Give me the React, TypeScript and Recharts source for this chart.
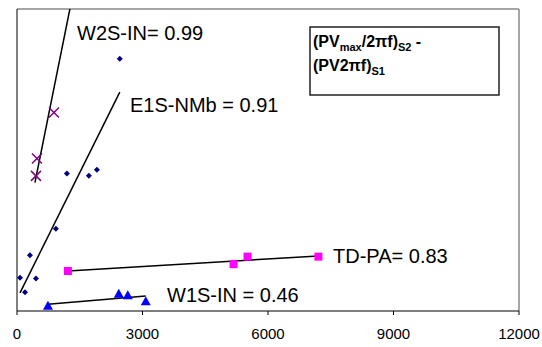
import {
  ScatterChart,
  Scatter,
  XAxis,
  YAxis,
  ReferenceLine,
  Customized,
} from "recharts";

const xTicks = [0, 3000, 6000, 9000, 12000];
const yTicks = [0, 1, 2, 3, 4];

// E1S-NMb
const e1sX = [2457, 1193, 1718, 1909, 930, 310, 72, 453, 191];
const e1sY = [3.34, 1.82, 1.79, 1.87, 1.09, 0.74, 0.44, 0.43, 0.25];
const e1sTrendX = [72, 2457];
const e1sTrendY = [0.24, 2.9];

// W2S-IN
const w2sX = [883, 477, 453];
const w2sY = [2.63, 2.02, 1.79];
const w2sTrendX = [429, 1264];
const w2sTrendY = [1.7, 4.0];

// TD-PA
const tdpaX = [1217, 5177, 5511, 7205];
const tdpaY = [0.53, 0.62, 0.72, 0.72];
const tdpaTrendX = [1217, 7205];
const tdpaTrendY = [0.53, 0.73];

// W1S-IN
const w1sX = [740, 2433, 2648, 3078];
const w1sY = [0.07, 0.23, 0.21, 0.13];
const w1sTrendX = [740, 3078];
const w1sTrendY = [0.09, 0.2];

const zip = (xs: number[], ys: number[]) =>
  xs.map((x, i) => ({ x, y: ys[i] }));

const FONT = "Arial, 'Liberation Sans', sans-serif";

const Diamond = (p: any) => (
  <polygon
    points={`${p.cx},${p.cy - 3} ${p.cx + 3},${p.cy} ${p.cx},${p.cy + 3} ${p.cx - 3},${p.cy}`}
    fill="#000080"
  />
);

const Cross = (p: any) => (
  <g stroke="#800080" strokeWidth={1.5}>
    <line x1={p.cx - 5} y1={p.cy - 5} x2={p.cx + 5} y2={p.cy + 5} />
    <line x1={p.cx - 5} y1={p.cy + 5} x2={p.cx + 5} y2={p.cy - 5} />
  </g>
);

const Square = (p: any) => (
  <rect x={p.cx - 4} y={p.cy - 4} width={8} height={8} fill="#FF00FF" />
);

const Triangle = (p: any) => (
  <polygon
    points={`${p.cx},${p.cy - 5} ${p.cx + 5},${p.cy + 4} ${p.cx - 5},${p.cy + 4}`}
    fill="#0000FF"
  />
);

const NoDot = () => <g />;

const Labels = () => (
  <g fontFamily={FONT} fill="#000">
    <text x={77} y={40} fontSize={20}>W2S-IN= 0.99</text>
    <text x={130} y={112} fontSize={20}>E1S-NMb = 0.91</text>
    <text x={333} y={263} fontSize={20}>TD-PA= 0.83</text>
    <text x={167} y={302} fontSize={20}>W1S-IN = 0.46</text>
    <rect x={310} y={27} width={189} height={68} fill="#fff" stroke="#222" strokeWidth={1.5} />
    <text x={313} y={47} fontSize={16} fontWeight="bold">
      (PV<tspan fontSize={11} dy={4}>max</tspan>
      <tspan dy={-4}>/2πf)</tspan>
      <tspan fontSize={11} dy={4}>S2</tspan>
      <tspan dy={-4}> -</tspan>
    </text>
    <text x={313} y={71} fontSize={16} fontWeight="bold">
      (PV2πf)<tspan fontSize={11} dy={4}>S1</tspan>
    </text>
  </g>
);

export default function App() {
  const trendLine = { stroke: "#000", strokeWidth: 1.5 };
  return (
    <div
      style={{
        position: "absolute",
        left: 0,
        top: 0,
        width: 542,
        height: 347,
        background: "#fff",
      }}
    >
      <ScatterChart
        width={542}
        height={347}
        margin={{ top: 9, right: 23, bottom: 0, left: 0 }}
      >
        <XAxis
          type="number"
          dataKey="x"
          domain={[0, 12000]}
          ticks={xTicks}
          height={36}
          stroke="#000"
          tickSize={4}
          tickMargin={13}
          tick={{ fill: "#000", fontSize: 15, fontFamily: FONT }}
        />
        <YAxis
          type="number"
          dataKey="y"
          domain={[0, 4]}
          ticks={yTicks}
          width={17}
          stroke="#000"
          tickSize={4}
          tick={false}
          allowDataOverflow
        />
        <ReferenceLine y={4} stroke="#888" strokeWidth={1.5} />
        <ReferenceLine x={12000} stroke="#888" strokeWidth={1.5} />

        <Scatter data={zip(w2sTrendX, w2sTrendY)} line={trendLine} shape={NoDot} isAnimationActive={false} />
        <Scatter data={zip(e1sTrendX, e1sTrendY)} line={trendLine} shape={NoDot} isAnimationActive={false} />
        <Scatter data={zip(tdpaTrendX, tdpaTrendY)} line={trendLine} shape={NoDot} isAnimationActive={false} />
        <Scatter data={zip(w1sTrendX, w1sTrendY)} line={trendLine} shape={NoDot} isAnimationActive={false} />

        <Scatter data={zip(e1sX, e1sY)} shape={Diamond} isAnimationActive={false} />
        <Scatter data={zip(w2sX, w2sY)} shape={Cross} isAnimationActive={false} />
        <Scatter data={zip(tdpaX, tdpaY)} shape={Square} isAnimationActive={false} />
        <Scatter data={zip(w1sX, w1sY)} shape={Triangle} isAnimationActive={false} />

        <Customized component={<Labels />} />
      </ScatterChart>
    </div>
  );
}
